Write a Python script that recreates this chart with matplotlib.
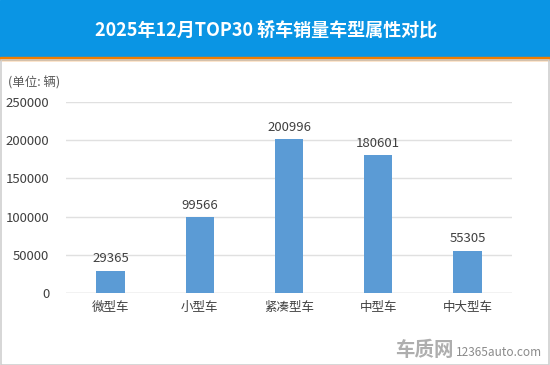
import matplotlib.pyplot as plt
from matplotlib.patches import Rectangle

plt.rcParams['font.family'] = ['Noto Sans CJK SC', 'DejaVu Sans']

# data
categories = ['微型车', '小型车', '紧凑型车', '中型车', '中大型车']
sales = [29365, 99566, 200996, 180601, 55305]
yticks = [0, 50000, 100000, 150000, 200000, 250000]

W, H = 550, 365
fig = plt.figure(figsize=(W / 100, H / 100), dpi=100)

# header band and orange stripe
fig.patches.append(Rectangle((0, 1 - 57 / H), 1, 57 / H, transform=fig.transFigure,
                             color='#0a95e4', zorder=0))
fig.patches.append(Rectangle((0, 1 - 60 / H), 1, 3 / H, transform=fig.transFigure,
                             color='#f07d00', zorder=0))
# light frame round the chart area
fig.patches.append(Rectangle((0.5 / W, 0.5 / H), 1 - 1.5 / W, 1 - 60.5 / H,
                             transform=fig.transFigure, fill=False,
                             edgecolor='#cfcfcf', lw=1.2, zorder=0))
fig.text(266 / W, 1 - 30 / H, '2025年12月TOP30 轿车销量车型属性对比', color='white',
         fontsize=13, fontweight='bold', ha='center', va='center')

ax = fig.add_axes([66 / W, 1 - 293 / H, (512 - 66) / W, (293 - 102) / H])
x = range(len(categories))
bars = ax.bar(x, sales, width=0.32, color='#5b9bd5', zorder=2)
for xi, v in zip(x, sales):
    ax.text(xi, v + 7000, str(v), ha='center', va='bottom', fontsize=9.5, color='#404040')

ax.set_xlim(-0.5, len(categories) - 0.5)
ax.set_ylim(0, 250000)
ax.set_yticks(yticks)
ax.set_yticklabels([str(t) for t in yticks], fontsize=9.5, color='#404040')
ax.set_xticks(list(x))
ax.set_xticklabels(categories, fontsize=9, color='#404040')
ax.tick_params(length=0, pad=6)
ax.tick_params(axis='y', pad=12)
ax.yaxis.grid(True, color='#e0e0e0', lw=1, zorder=0)
for s in ax.spines.values():
    s.set_visible(False)
ax.axhline(0, color='#d9d9d9', lw=1, zorder=1)

fig.text(8 / W, 1 - 83 / H, '(单位: 辆)', fontsize=9, color='#595959', ha='left', va='center')

# watermark
fig.text(395 / W, 1 - 350 / H, '车质网', fontsize=14, fontweight='bold', color='#9a9a9a',
         ha='left', va='center', alpha=0.8)
fig.text(456 / W, 1 - 352 / H, '12365auto.com', fontsize=8.5, color='#8a8a8a',
         ha='left', va='center')

fig.savefig('out.png', dpi=100)
